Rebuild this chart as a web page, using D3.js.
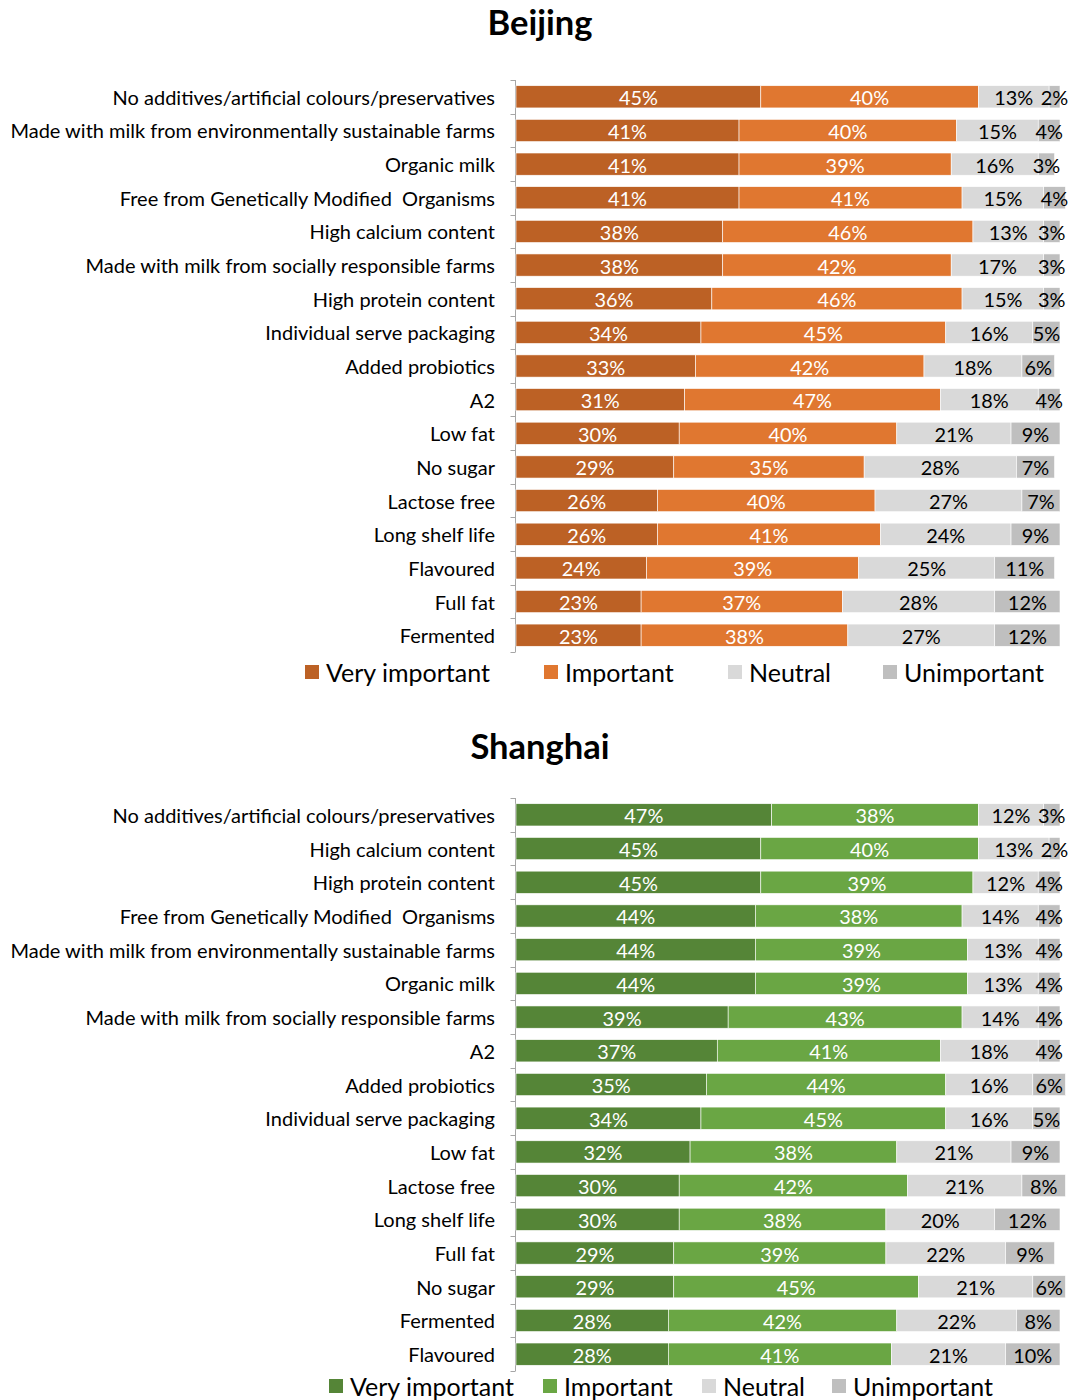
<!DOCTYPE html>
<html>
<head>
<meta charset="utf-8">
<script src="https://cdn.jsdelivr.net/npm/d3@7"></script>
<style>
  html, body { margin: 0; padding: 0; background: #fff; }
  svg { display: block; }
  text { font-family: Lato, "Open Sans", "Noto Sans", sans-serif; }
</style>
</head>
<body>
<svg id="chart" width="1071" height="1400"></svg>
<script>
// Response levels (stack order, left to right)
const levels = ["Very important", "Important", "Neutral", "Unimportant"];

// Beijing
const beijingCategories = [
  "No additives/artificial colours/preservatives",
  "Made with milk from environmentally sustainable farms",
  "Organic milk",
  "Free from Genetically Modified  Organisms",
  "High calcium content",
  "Made with milk from socially responsible farms",
  "High protein content",
  "Individual serve packaging",
  "Added probiotics",
  "A2",
  "Low fat",
  "No sugar",
  "Lactose free",
  "Long shelf life",
  "Flavoured",
  "Full fat",
  "Fermented"
];
const beijingVeryImportant = [45, 41, 41, 41, 38, 38, 36, 34, 33, 31, 30, 29, 26, 26, 24, 23, 23];
const beijingImportant     = [40, 40, 39, 41, 46, 42, 46, 45, 42, 47, 40, 35, 40, 41, 39, 37, 38];
const beijingNeutral       = [13, 15, 16, 15, 13, 17, 15, 16, 18, 18, 21, 28, 27, 24, 25, 28, 27];
const beijingUnimportant   = [ 2,  4,  3,  4,  3,  3,  3,  5,  6,  4,  9,  7,  7,  9, 11, 12, 12];

// Shanghai
const shanghaiCategories = [
  "No additives/artificial colours/preservatives",
  "High calcium content",
  "High protein content",
  "Free from Genetically Modified  Organisms",
  "Made with milk from environmentally sustainable farms",
  "Organic milk",
  "Made with milk from socially responsible farms",
  "A2",
  "Added probiotics",
  "Individual serve packaging",
  "Low fat",
  "Lactose free",
  "Long shelf life",
  "Full fat",
  "No sugar",
  "Fermented",
  "Flavoured"
];
const shanghaiVeryImportant = [47, 45, 45, 44, 44, 44, 39, 37, 35, 34, 32, 30, 30, 29, 29, 28, 28];
const shanghaiImportant     = [38, 40, 39, 38, 39, 39, 43, 41, 44, 45, 38, 42, 38, 39, 45, 42, 41];
const shanghaiNeutral       = [12, 13, 12, 14, 13, 13, 14, 18, 16, 16, 21, 21, 20, 22, 21, 22, 21];
const shanghaiUnimportant   = [ 3,  2,  4,  4,  4,  4,  4,  4,  6,  5,  9,  8, 12,  9,  6,  8, 10];

const svg = d3.select("#chart");

// Pick a font size so that a sample string renders at a given pixel width
function fitSize(sample, targetWidth, weight) {
  const t = svg.append("text").attr("font-size", 20)
    .attr("font-weight", weight || "normal")
    .style("white-space", "pre").text(sample);
  const w = t.node().getComputedTextLength();
  t.remove();
  return 20 * targetWidth / w;
}

const catSize = fitSize("Made with milk from environmentally sustainable farms", 485);
const valSize = fitSize("45%", 39);
const legSize = fitSize("Very important", 164);
const titleSize = fitSize("Beijing", 105, "bold");

const x = d3.scaleLinear().domain([0, 100]).range([516, 1060]);

function drawPanel(cfg) {
  const g = svg.append("g");
  const rows = cfg.categories.map((c, i) => {
    const vals = cfg.series.map(s => s[i]);
    let acc = 0;
    const segs = vals.map((v, k) => {
      const s = { level: levels[k], k, x0: acc, x1: acc + v, v };
      acc += v;
      return s;
    });
    return { cat: c, segs };
  });

  const y = d3.scaleBand()
    .domain(cfg.categories)
    .range(cfg.yRange)
    .paddingInner(0.34)
    .paddingOuter(0.17);

  const color = d3.scaleOrdinal().domain(levels).range(cfg.colors);

  // Title
  g.append("text")
    .attr("x", 540).attr("y", cfg.titleY)
    .attr("text-anchor", "middle")
    .attr("dominant-baseline", "central")
    .attr("font-weight", "bold")
    .attr("font-size", titleSize)
    .attr("fill", "#000")
    .text(cfg.title);

  // Category axis: a vertical rule with ticks on band boundaries
  const axisX = 515.5;
  const [y0, y1] = cfg.yRange;
  g.append("line")
    .attr("x1", axisX).attr("x2", axisX)
    .attr("y1", y0).attr("y2", y1)
    .attr("stroke", "#A6A6A6").attr("stroke-width", 1);
  const bounds = d3.range(cfg.categories.length + 1).map(i => y0 + i * (y1 - y0) / cfg.categories.length);
  g.selectAll("line.tick").data(bounds).join("line")
    .attr("class", "tick")
    .attr("x1", axisX - 5).attr("x2", axisX)
    .attr("y1", d => Math.round(d) + 0.5).attr("y2", d => Math.round(d) + 0.5)
    .attr("stroke", "#A6A6A6").attr("stroke-width", 1);

  // Category labels
  g.selectAll("text.cat").data(cfg.categories).join("text")
    .attr("class", "cat")
    .attr("x", 495)
    .attr("y", d => y(d) + y.bandwidth() / 2)
    .attr("text-anchor", "end")
    .attr("dominant-baseline", "central")
    .attr("font-size", catSize)
    .attr("fill", "#000")
    .style("white-space", "pre")
    .text(d => d);

  // Stacked bars
  const row = g.selectAll("g.row").data(rows).join("g")
    .attr("class", "row")
    .attr("transform", d => `translate(0,${y(d.cat)})`);

  row.selectAll("rect").data(d => d.segs).join("rect")
    .attr("x", d => x(d.x0))
    .attr("y", 0)
    .attr("width", d => x(d.x1) - x(d.x0))
    .attr("height", y.bandwidth())
    .attr("fill", d => color(d.level))
    .attr("stroke", "#fff")
    .attr("stroke-width", 0.6);

  row.selectAll("text").data(d => d.segs).join("text")
    .attr("x", d => (x(d.x0) + x(d.x1)) / 2)
    .attr("y", y.bandwidth() / 2 + 0.5)
    .attr("text-anchor", "middle")
    .attr("dominant-baseline", "central")
    .attr("font-size", valSize)
    .attr("fill", d => d.k < 2 ? "#fff" : "#000")
    .text(d => d.v + "%");

  // Legend
  const leg = g.selectAll("g.leg").data(levels).join("g")
    .attr("class", "leg")
    .attr("transform", (d, i) => `translate(${cfg.legendX[i]},${cfg.legendY})`);
  leg.append("rect")
    .attr("x", 0).attr("y", -7)
    .attr("width", 14).attr("height", 14)
    .attr("fill", d => color(d));
  leg.append("text")
    .attr("x", 21).attr("y", 0)
    .attr("dominant-baseline", "central")
    .attr("font-size", legSize)
    .attr("fill", "#000")
    .text(d => d);
}

drawPanel({
  title: "Beijing",
  titleY: 21,
  categories: beijingCategories,
  series: [beijingVeryImportant, beijingImportant, beijingNeutral, beijingUnimportant],
  colors: ["#BC6125", "#E07730", "#D9D9D9", "#BFBFBF"],
  yRange: [80, 652],
  legendY: 672,
  legendX: [305, 544, 728, 883]
});

drawPanel({
  title: "Shanghai",
  titleY: 745,
  categories: shanghaiCategories,
  series: [shanghaiVeryImportant, shanghaiImportant, shanghaiNeutral, shanghaiUnimportant],
  colors: ["#558537", "#6AA644", "#D9D9D9", "#BFBFBF"],
  yRange: [798, 1371],
  legendY: 1386,
  legendX: [329, 543, 702, 832]
});
</script>
</body>
</html>
